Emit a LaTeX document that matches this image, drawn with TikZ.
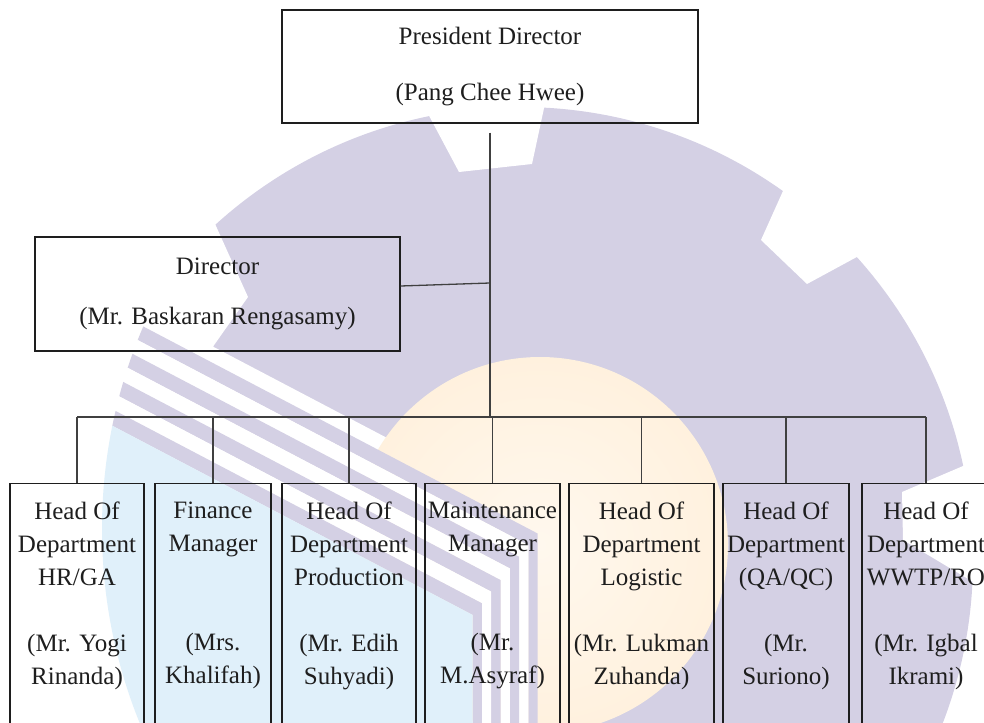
\documentclass[tikz,border=0pt]{standalone}
\usepackage{fontspec}
\setmainfont{Liberation Serif}
\definecolor{gear}{RGB}{212,208,228}
\definecolor{sky}{RGB}{224,240,250}
\definecolor{peach}{RGB}{254,234,206}
\definecolor{peachlight}{RGB}{255,248,238}
\definecolor{ink}{RGB}{30,30,30}
\pgfdeclareradialshading{peachglow}{\pgfpoint{0bp}{0bp}}{color(0bp)=(peachlight); color(50bp)=(peach)}
\tikzset{
  post/.style={draw=ink, line width=1.3pt, inner sep=0pt},
  staff/.style={font=\fontsize{25}{33}\selectfont, text=ink, align=center, inner sep=0pt},
  link/.style={draw=ink!85, line width=1.3pt}
}
\begin{document}
\begin{tikzpicture}[x=1pt, y=-1pt]
\useasboundingbox (0,0) rectangle (984,722);
\clip (0,0) rectangle (984,722);

% faint logo behind the chart
\fill[gear] (520,560) circle (453);
\fill[white] (418,95) -- (459,172) -- (532,164) -- (549,85) -- cycle;
\fill[white] (796,162) -- (761,240) -- (807,284) -- (890,239) -- cycle;
\fill[white] (1010,446) -- (902,492) -- (903,540) -- (1010,604) -- cycle;
\fill[white] (202,195) -- (248,297) -- (213,346.6) -- (547,521.9) -- (547,740) -- (-10,740) -- (-10,195) -- cycle;
\shade[shading=peachglow] (540,545) circle (188);
\begin{scope}
\clip (618,529) circle (516);
\foreach \k/\c in {1/gear,2/white,3/gear,4/white,5/gear,6/white,7/gear}{
    \pgfmathsetmacro\xa{547-9.3*\k}
    \pgfmathsetmacro\xb{547-9.3*(\k+1)}
    \pgfmathsetmacro\ca{234.75+16.5*\k}
    \pgfmathsetmacro\cb{234.75+16.5*(\k+1)}
    \fill[\c] (60,\ca+31.5) -- (\xa,\ca+0.525*\xa) -- (\xa,740) -- (\xb,740) -- (\xb,\cb+0.525*\xb) -- (60,\cb+31.5) -- cycle;
}
\fill[sky] (60,398.25) -- (472.6,614.9) -- (472.6,740) -- (60,740) -- cycle;
\end{scope}

% chart
\node[post, staff, minimum width=416, minimum height=113] (pres) at (490,66.5) {President Director\\[23pt](Pang Chee Hwee)};
\node[post, staff, minimum width=365, minimum height=114] (dir) at (217.5,294) {Director\\[17pt](Mr. Baskaran Rengasamy)};
\coordinate (bus) at (490,417);
\coordinate (fork) at (490,283);

\foreach \i/\x/\w in {1/77/134, 2/213/116, 3/349/134, 4/492.5/135, 5/641.5/145, 6/786/126, 7/926/128}{
    \node[post, anchor=north, minimum width=\w, minimum height=300] (b\i) at (\x,483) {};
}
\foreach \i/\t in {1/{Head Of\\Department\\HR/GA\\[33pt](Mr. Yogi\\Rinanda)},
                   2/{Finance\\Manager\\[66pt](Mrs.\\Khalifah)},
                   3/{Head Of\\Department\\Production\\[33pt](Mr. Edih\\Suhyadi)},
                   4/{Maintenance\\Manager\\[66pt](Mr.\\M.Asyraf)},
                   5/{Head Of\\Department\\Logistic\\[33pt](Mr. Lukman\\Zuhanda)},
                   6/{Head Of\\Department\\(QA/QC)\\[33pt](Mr.\\Suriono)},
                   7/{Head Of\\Department\\WWTP/RO\\[33pt](Mr. Igbal\\Ikrami)}}{
    \node[staff, anchor=north] (t\i) at ([yshift=-19pt]b\i.north) {\t};
}

\draw[link, shorten <=9pt] (pres) -- (bus);
\draw[link] ([yshift=8pt]dir.east) -- (fork);
\draw[link] (b1.north |- bus) -- (b7.north |- bus);
\foreach \i in {1,...,7}{
    \draw[link] (b\i) -- (b\i.north |- bus);
}
\end{tikzpicture}
\end{document}
